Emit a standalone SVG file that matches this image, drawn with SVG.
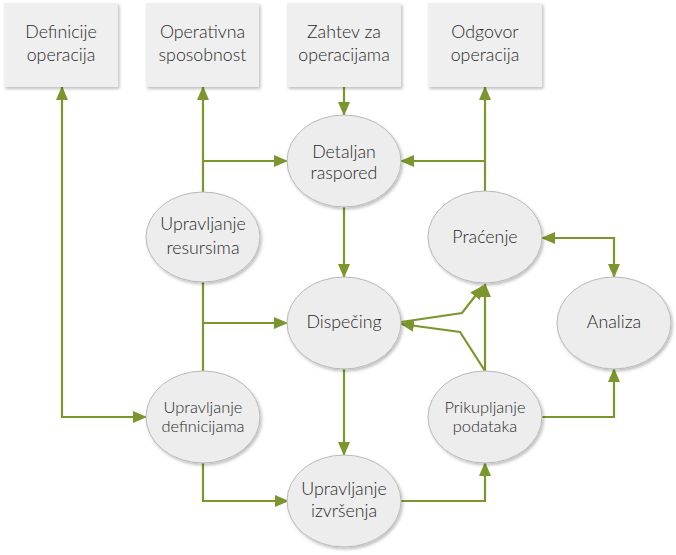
<svg xmlns="http://www.w3.org/2000/svg" width="676" height="555" viewBox="0 0 676 555">
<style>
.box{fill:#efefef;}
.ell{fill:#ededed;stroke:#b9b9b9;stroke-width:1;}
text{font-family:Lato,"Open Sans","Liberation Sans",sans-serif;font-weight:300;fill:#2a2a2a;text-anchor:middle;font-size:17.8px;}
.sm{font-size:16.4px;}
.con{fill:none;stroke:#7a962c;stroke-width:2.2;stroke-linejoin:miter;}
</style>
<defs>
<filter id="sh" x="-20%" y="-20%" width="140%" height="140%">
<feDropShadow dx="1.5" dy="2" stdDeviation="1.5" flood-color="#000" flood-opacity="0.25"/>
</filter>
<marker id="ar" markerUnits="userSpaceOnUse" markerWidth="14" markerHeight="12" refX="13" refY="6" orient="auto-start-reverse" viewBox="0 0 14 12">
<path d="M0,0 L14,6 L0,12 z" fill="#7a962c"/>
</marker>
</defs>

<g id="connectors">
<path class="con" d="M146,417 H62 V87" marker-start="url(#ar)" marker-end="url(#ar)"/>
<path class="con" d="M203,192 V87" marker-end="url(#ar)"/>
<path class="con" d="M203,161 H287" marker-end="url(#ar)"/>
<path class="con" d="M203,282 V371"/>
<path class="con" d="M203,323 H287" marker-end="url(#ar)"/>
<path class="con" d="M203,463 V501 H288" marker-end="url(#ar)"/>
<path class="con" d="M344,87 V115" marker-end="url(#ar)"/>
<path class="con" d="M344,207 V277" marker-end="url(#ar)"/>
<path class="con" d="M344,369 V455" marker-end="url(#ar)"/>
<path class="con" d="M401,501 H485 V463" marker-end="url(#ar)"/>
<path class="con" d="M485,371 V284" marker-end="url(#ar)"/>
<path class="con" d="M485,371 L460,332 L401,324" marker-end="url(#ar)"/>
<path class="con" d="M401,322 L462,313 L483,286" marker-end="url(#ar)"/>
<path class="con" d="M485,191 V87" marker-end="url(#ar)"/>
<path class="con" d="M485,161 H401" marker-end="url(#ar)"/>
<path class="con" d="M542,238 H614 V277" marker-start="url(#ar)" marker-end="url(#ar)"/>
<path class="con" d="M542,417 H614 V369" marker-end="url(#ar)"/>
</g>

<g id="box-definicije-operacija">
<rect class="box" x="4" y="3" width="114" height="84" filter="url(#sh)"/>
<text x="61" y="38">Definicije</text>
<text x="61" y="61">operacija</text>
</g>
<g id="box-operativna-sposobnost">
<rect class="box" x="146" y="3" width="113" height="84" filter="url(#sh)"/>
<text x="202.5" y="38">Operativna</text>
<text x="202.5" y="61">sposobnost</text>
</g>
<g id="box-zahtev">
<rect class="box" x="287" y="3" width="114" height="84" filter="url(#sh)"/>
<text x="344" y="38">Zahtev za</text>
<text x="344" y="61">operacijama</text>
</g>
<g id="box-odgovor">
<rect class="box" x="428" y="3" width="114" height="84" filter="url(#sh)"/>
<text x="485" y="38">Odgovor</text>
<text x="485" y="61">operacija</text>
</g>

<g id="detaljan-raspored">
<ellipse class="ell" cx="344" cy="161" rx="57" ry="46" filter="url(#sh)"/>
<text x="344" y="158">Detaljan</text>
<text x="344" y="179">raspored</text>
</g>
<g id="upravljanje-resursima">
<ellipse class="ell" cx="203" cy="237" rx="57" ry="45" filter="url(#sh)"/>
<text x="203" y="230">Upravljanje</text>
<text x="203" y="254">resursima</text>
</g>
<g id="pracenje">
<ellipse class="ell" cx="485" cy="237" rx="57" ry="46" filter="url(#sh)"/>
<text x="485" y="243">Praćenje</text>
</g>
<g id="dispecing">
<ellipse class="ell" cx="344" cy="323" rx="57" ry="46" filter="url(#sh)"/>
<text x="344" y="328">Dispečing</text>
</g>
<g id="analiza">
<ellipse class="ell" cx="614" cy="323" rx="57" ry="46" filter="url(#sh)"/>
<text x="614" y="328">Analiza</text>
</g>
<g id="upravljanje-definicijama">
<ellipse class="ell" cx="203" cy="417" rx="57" ry="46" filter="url(#sh)"/>
<text class="sm" x="203" y="413">Upravljanje</text>
<text class="sm" x="203" y="432">definicijama</text>
</g>
<g id="prikupljanje-podataka">
<ellipse class="ell" cx="485" cy="417" rx="57" ry="46" filter="url(#sh)"/>
<text class="sm" x="485" y="413">Prikupljanje</text>
<text class="sm" x="485" y="432">podataka</text>
</g>
<g id="upravljanje-izvrsenja">
<ellipse class="ell" cx="344" cy="501" rx="57" ry="46" filter="url(#sh)"/>
<text x="344" y="495">Upravljanje</text>
<text x="344" y="517">izvršenja</text>
</g>
</svg>
